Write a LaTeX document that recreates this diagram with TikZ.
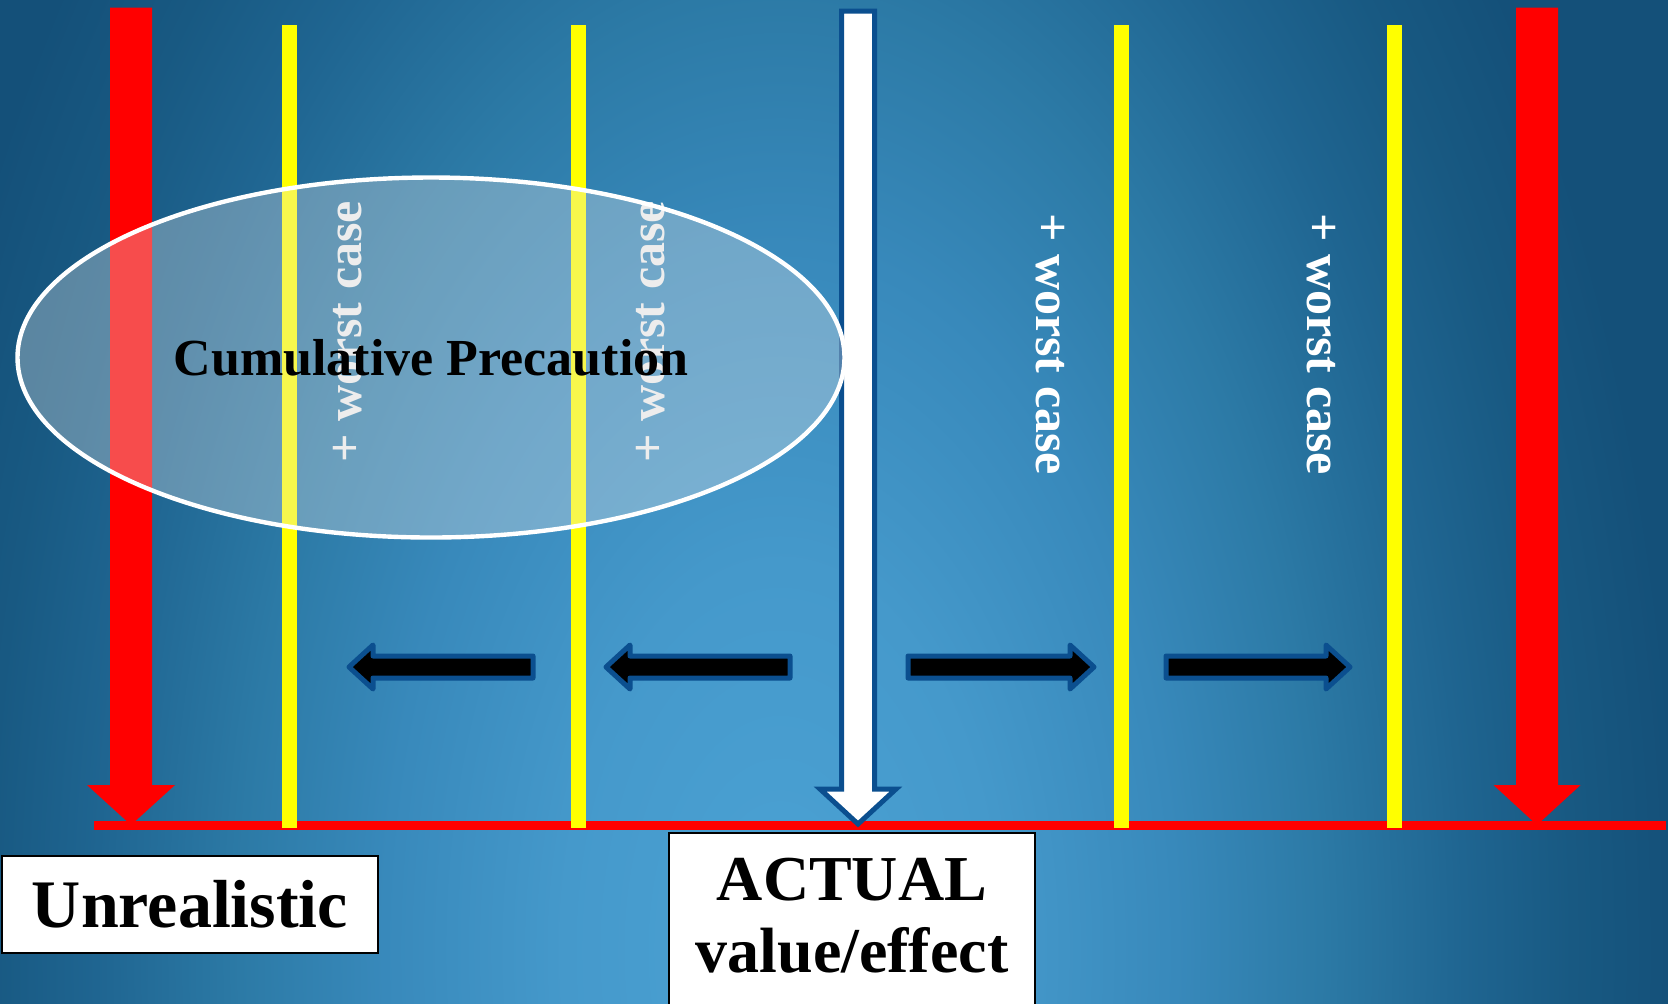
\documentclass[tikz,border=0pt]{standalone}
\usepackage{fontspec}
\setmainfont{Liberation Serif}
\usepackage{tikz}
\usetikzlibrary{shapes.geometric}
\usepackage{xcolor}
\definecolor{pRed}{HTML}{FF0000}
\definecolor{pYellow}{HTML}{FFFF00}
\definecolor{pEdge}{HTML}{0B4F8F}
\definecolor{pInk}{HTML}{000000}
\definecolor{bgA}{HTML}{4BA2D4}
\definecolor{bgB}{HTML}{4599CB}
\definecolor{bgC}{HTML}{3889BB}
\definecolor{bgD}{HTML}{2C7AA6}
\definecolor{bgE}{HTML}{1F6591}
\definecolor{bgF}{HTML}{185982}
\definecolor{bgG}{HTML}{145079}
\pgfdeclareradialshading{slideglow}{\pgfpoint{0bp}{0bp}}{color(0bp)=(bgA); color(6bp)=(bgB); color(11bp)=(bgC); color(15bp)=(bgD); color(19bp)=(bgE); color(22bp)=(bgF); color(25bp)=(bgG); color(50bp)=(bgG)}

\begin{document}
\begin{tikzpicture}[
  x=0.5pt, y=-0.5pt,
  wcase/.style={text=white, font=\fontsize{25}{29}\selectfont\bfseries, inner sep=0pt},
  blockarr/.style={fill=black, draw=pEdge, line width=2.5pt, line join=round},
  tagbox/.style={draw=pInk, fill=white, line width=1pt, text=pInk},
  cloud/.style={ellipse, draw=white, line width=2.2pt, fill=white!82!gray, fill opacity=0.33,
                text opacity=1, inner sep=0pt, font=\fontsize{26}{30}\selectfont\bfseries}]
  \useasboundingbox (0,0) rectangle (1668,1003);
  \clip (0,0) rectangle (1668,1003);
  % background
  \shade[shading=slideglow] (-120,-650) rectangle (1680,2550);
  % scale: red base line and yellow steps
  \fill[pRed] (94,821) rectangle (1666,830);
  \foreach \yx in {289,578,1121,1394}
    \fill[pYellow] (\yx-7.5,24.5) rectangle (\yx+7.5,828);
  % red arrows at both ends
  \foreach \cx/\hw in {131/44, 1537/43.5}
    \fill[pRed] (\cx-21,7.5) -- (\cx+21,7.5) -- (\cx+21,785) -- (\cx+\hw,785)
      -- (\cx,825) -- (\cx-\hw,785) -- (\cx-21,785) -- cycle;
  % actual value arrow
  \draw[fill=white, draw=pEdge, line width=2.5pt] (841.5,11) -- (874.5,11) -- (874.5,789)
    -- (896,789) -- (858,824) -- (820,789) -- (841.5,789) -- cycle;
  % labels inside the cloud
  \node[wcase, rotate=90, text=white!88!gray] (wc1) at (348,332) {+ worst case};
  \node[wcase, rotate=90, text=white!88!gray] (wc2) at (651,332) {+ worst case};
  \node[cloud, minimum width=413.5pt, minimum height=180pt] (cumprec) at (431,357.5) {Cumulative Precaution};
  \node[wcase, rotate=-90] (wc3) at (1050,344) {+ worst case};
  \node[wcase, rotate=-90] (wc4) at (1321,344) {+ worst case};
  % black arrows
  \foreach \ta/\tb/\s in {533/349/-1, 790/606/-1, 908/1094/1, 1166/1350/1}{
    \pgfmathsetmacro{\hx}{\tb-\s*24}
    \draw[blockarr] (\ta,656) -- (\hx,656) -- (\hx,645) -- (\tb,667)
      -- (\hx,689) -- (\hx,678) -- (\ta,678) -- cycle;
  }
  % boxes
  \node[tagbox, minimum width=188pt, minimum height=48.5pt, inner sep=0pt,
        font=\fontsize{34}{40}\selectfont\bfseries] (unreal) at (190,904.5) {Unrealistic};
  \node[tagbox, anchor=north, minimum width=183pt, minimum height=110pt] (actual) at (852,832) {};
  \node[align=center, anchor=north, inner sep=0pt, text=pInk,
        font=\fontsize{32}{36}\selectfont\bfseries] (actualtxt) at ([yshift=-12.75pt]actual.north) {ACTUAL\\value/effect};
\end{tikzpicture}
\end{document}
